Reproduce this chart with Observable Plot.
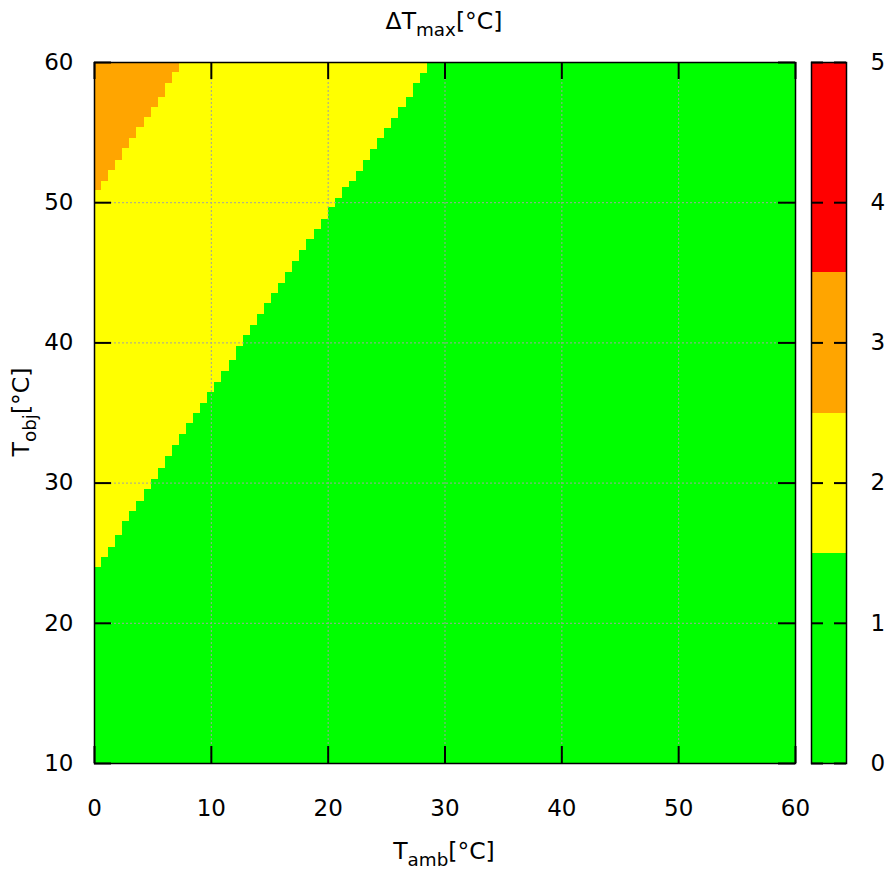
<!DOCTYPE html>
<html><head><meta charset="utf-8">
<script src="https://cdn.jsdelivr.net/npm/d3@7"></script>
<script src="https://cdn.jsdelivr.net/npm/@observablehq/plot@0.6"></script>
<style>
body{margin:0;background:#fff;}
#wrap{position:relative;width:886px;height:869px;font-family:"DejaVu Sans",sans-serif;overflow:hidden;}
#wrap svg{position:absolute;left:0;top:0;}
.lbl{position:absolute;font-size:23.5px;white-space:nowrap;color:#000;line-height:1;}
.lbl sub{font-size:0.78em;vertical-align:-0.35em;line-height:0;}
</style></head><body><div id="wrap"></div>
<script>
// Tick labels
const xTicks = [0, 10, 20, 30, 40, 50, 60];
const yTicks = [10, 20, 30, 40, 50, 60];
const cbTicks = [0, 1, 2, 3, 4, 5];

// Grid columns of T_amb (0..60 split into 99 pm3d quads)
const nCols = 99;
// T_obj where green (ΔT < 1.5) ends and yellow begins, per column
const greenTop = [24.00, 24.69, 25.43, 26.23, 27.28, 27.97, 28.69, 29.52, 30.23, 31.02,
  31.90, 32.68, 33.49, 34.23, 34.94, 35.70, 36.48, 37.20, 37.96, 38.72,
  39.76, 40.53, 41.24, 42.03, 42.79, 43.54, 44.26, 45.04, 45.81, 46.59,
  47.35, 48.07, 48.80, 49.64, 50.28, 51.11, 51.53, 52.25, 53.01, 53.77,
  54.56, 55.27, 55.98, 56.77, 57.53, 58.48, 59.19];
// T_obj where yellow ends and orange (ΔT 2.5..3.5) begins, per column
const orangeBottom = [50.87, 51.51, 52.30, 53.01, 53.84, 54.56, 55.39, 56.10, 56.81, 57.53,
  58.48, 59.31];
// Level values of the three bands and the palette
const levelValues = [1, 2, 3];
const levelBreaks = [1.5, 2.5, 3.5];
const levelColors = ["#00ff00", "#ffff00", "#ffa500", "#ff0000"];
const cbRange = [0, 5];

const colW = 60 / nCols;
const cells = [];
for (let i = 0; i < nCols; i++) {
  const x1 = i * colW, x2 = (i + 1) * colW;
  const g = i < greenTop.length ? greenTop[i] : 60;
  const o = i < orangeBottom.length ? orangeBottom[i] : 60;
  cells.push({x1, x2, y1: 10, y2: g, v: levelValues[0]});
  if (g < 60) cells.push({x1, x2, y1: g, y2: o, v: levelValues[1]});
  if (o < 60) cells.push({x1, x2, y1: o, y2: 60, v: levelValues[2]});
}

const colorOpt = {type: "threshold", domain: levelBreaks, range: levelColors};
const font = {fontFamily: "DejaVu Sans", fontSize: "23px", background: "transparent", overflow: "visible"};
const tickLen = 17;
const plotW = 886 - 94 - 91, plotH = 869 - 62 - 106;
const fmt = d => String(d);

const main = Plot.plot({
  width: 886, height: 869,
  marginLeft: 94, marginRight: 91, marginTop: 62, marginBottom: 106,
  style: font,
  x: {domain: [0, 60]},
  y: {domain: [10, 60]},
  color: colorOpt,
  marks: [
    Plot.rect(cells, {x1: "x1", x2: "x2", y1: "y1", y2: "y2", fill: "v", shapeRendering: "crispEdges"}),
    Plot.ruleX(xTicks, {x: d => d, stroke: "#a0a0a0", strokeWidth: 1, strokeDasharray: "2,2"}),
    Plot.ruleY(yTicks, {y: d => d, stroke: "#a0a0a0", strokeWidth: 1, strokeDasharray: "2,2"}),
    Plot.frame({stroke: "#000", strokeWidth: 1.5}),
    Plot.tickX(xTicks, {x: d => d, insetTop: plotH - tickLen, stroke: "#000", strokeWidth: 2}),
    Plot.tickX(xTicks, {x: d => d, insetBottom: plotH - tickLen, stroke: "#000", strokeWidth: 2}),
    Plot.tickY(yTicks, {y: d => d, insetRight: plotW - tickLen, stroke: "#000", strokeWidth: 2}),
    Plot.tickY(yTicks, {y: d => d, insetLeft: plotW - tickLen, stroke: "#000", strokeWidth: 2}),
    Plot.axisX(xTicks, {tickSize: 0, tickPadding: 36, label: null, fontSize: 23, tickFormat: fmt}),
    Plot.axisY(yTicks, {tickSize: 0, tickPadding: 21, label: null, fontSize: 23, tickFormat: fmt})
  ]
});

const bounds = [cbRange[0], ...levelBreaks, cbRange[1]];
const bands = d3.pairs(bounds).map(([lo, hi]) => ({lo, hi, v: (lo + hi) / 2}));
const cbW = 35, cbTick = 12;
const cb = Plot.plot({
  width: 886, height: 869,
  marginLeft: 811, marginRight: 886 - 811 - cbW, marginTop: 62, marginBottom: 106,
  style: font,
  x: {domain: [0, 1], axis: null},
  y: {domain: cbRange},
  color: colorOpt,
  marks: [
    Plot.rect(bands, {x1: 0, x2: 1, y1: "lo", y2: "hi", fill: "v", shapeRendering: "crispEdges"}),
    Plot.frame({stroke: "#000", strokeWidth: 1.5}),
    Plot.tickY(cbTicks, {y: d => d, insetRight: cbW - cbTick, stroke: "#000", strokeWidth: 2}),
    Plot.tickY(cbTicks, {y: d => d, insetLeft: cbW - cbTick, stroke: "#000", strokeWidth: 2}),
    Plot.axisY(cbTicks, {anchor: "right", tickSize: 0, tickPadding: 24, label: null, fontSize: 23, tickFormat: fmt})
  ]
});

const wrap = document.getElementById("wrap");
wrap.appendChild(main);
wrap.appendChild(cb);

function addLabel(html, left, top, extra) {
  const d = document.createElement("div");
  d.className = "lbl";
  d.innerHTML = html;
  d.style.left = left + "px";
  d.style.top = top + "px";
  d.style.transform = extra;
  wrap.appendChild(d);
}
addLabel("ΔT<sub>max</sub>[°C]", 444, 22, "translate(-50%,-50%)");
addLabel("T<sub>amb</sub>[°C]", 444, 852, "translate(-50%,-50%)");
addLabel("T<sub>obj</sub>[°C]", 22, 412, "translate(-50%,-50%) rotate(-90deg)");
</script></body></html>
